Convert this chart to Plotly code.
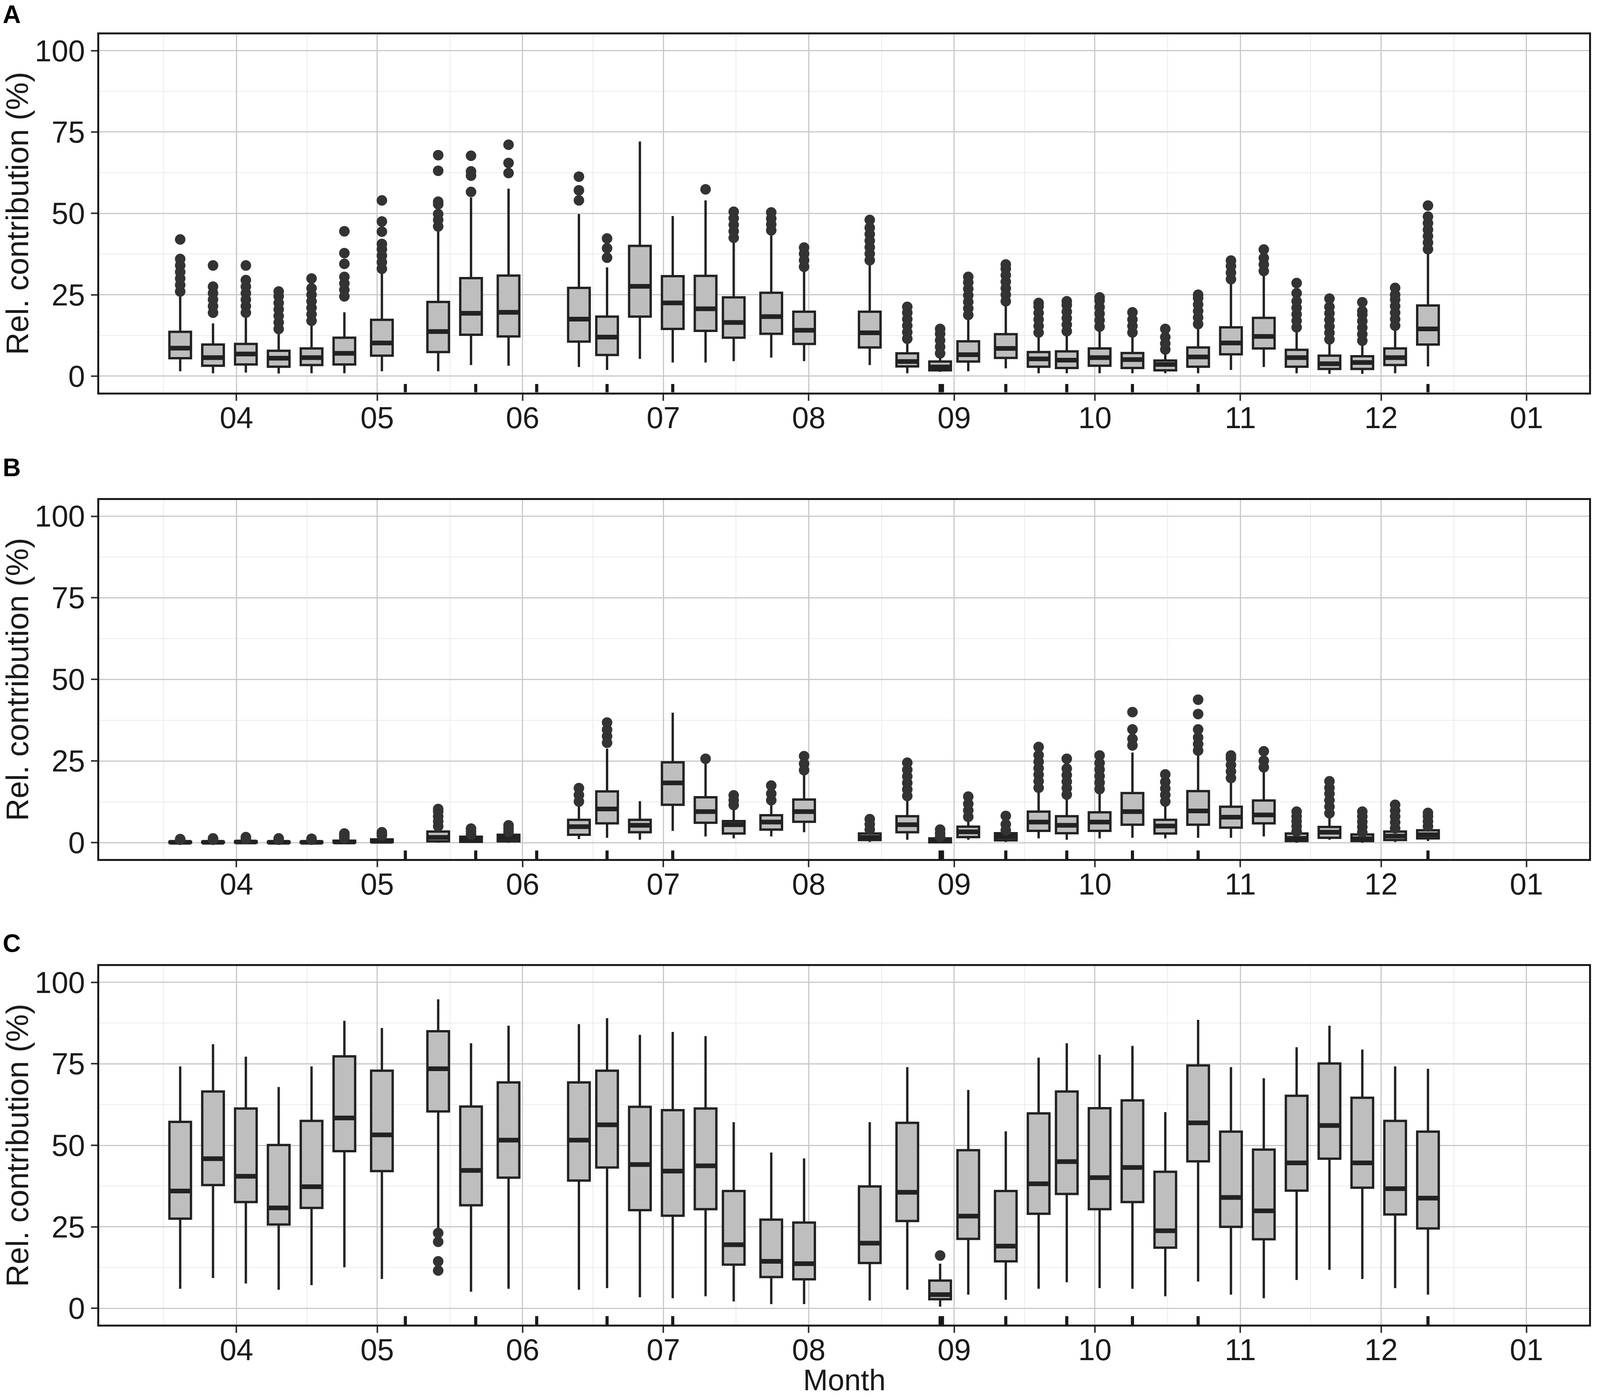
import pandas as pd
import plotly.graph_objects as go

# sampling dates (one box per date, same in all three panels)
dates = ["2019-03-20", "2019-03-27", "2019-04-03", "2019-04-10", "2019-04-17", "2019-04-24",
         "2019-05-02", "2019-05-14", "2019-05-21", "2019-05-29", "2019-06-13", "2019-06-19",
         "2019-06-26", "2019-07-03", "2019-07-10", "2019-07-16", "2019-07-24", "2019-07-31",
         "2019-08-14", "2019-08-22", "2019-08-29", "2019-09-04", "2019-09-12", "2019-09-19",
         "2019-09-25", "2019-10-02", "2019-10-09", "2019-10-16", "2019-10-23", "2019-10-30",
         "2019-11-06", "2019-11-13", "2019-11-20", "2019-11-27", "2019-12-04", "2019-12-11"]

# rug marks along the bottom of each panel
rug_dates = ["2019-05-07", "2019-05-22", "2019-06-04", "2019-06-19", "2019-07-03",
             "2019-08-29", "2019-08-29 12:00", "2019-09-12", "2019-09-25", "2019-10-09",
             "2019-10-23", "2019-12-11"]

# ---- panel A ----
a_lo = [1.5, 0.9, 1.1, 0.8, 0.9, 0.9, 1.5, 1.5, 3.4, 3.2, 2.8, 1.9, 5.3, 4.2, 4.2, 4.6, 5.7, 4.6,
        3.4, 0.9, 1.3, 1.5, 2.4, 0.9, 0.9, 0.9, 0.9, 0.9, 0.9, 1.9, 2.8, 0.9, 0.7, 0.7, 0.9, 3.0]
a_q1 = [5.5, 3.2, 3.6, 2.9, 3.4, 3.6, 6.3, 7.4, 12.7, 12.2, 10.6, 6.5, 18.3, 14.5, 13.9, 11.8, 13.0, 9.9,
        8.8, 3.0, 1.8, 4.5, 5.6, 2.9, 2.5, 3.2, 2.5, 1.8, 2.9, 6.7, 8.5, 2.9, 2.2, 2.2, 3.4, 9.7]
a_med = [8.6, 5.7, 6.8, 5.5, 5.7, 7.0, 10.2, 13.7, 19.3, 19.6, 17.5, 12.0, 27.6, 22.5, 20.7, 16.5, 18.3, 14.1,
         13.3, 4.5, 2.8, 6.6, 8.5, 5.3, 4.9, 5.7, 5.1, 3.6, 5.9, 10.2, 12.2, 5.7, 3.8, 4.2, 5.7, 14.5]
a_q3 = [13.6, 9.7, 9.9, 7.8, 8.5, 11.8, 17.3, 22.8, 30.1, 30.9, 27.1, 18.3, 40.0, 30.7, 30.8, 24.2, 25.6, 19.8,
        19.8, 7.0, 4.5, 10.7, 12.9, 7.4, 7.6, 8.5, 7.1, 4.8, 8.8, 15.0, 17.9, 8.1, 6.3, 6.1, 8.5, 21.7]
a_hi = [25.5, 16.2, 17.9, 14.1, 16.2, 19.6, 32.2, 45.6, 54.9, 57.6, 49.8, 33.4, 72.1, 49.2, 54.0, 42.3, 43.4, 33.0,
        35.1, 11.3, 6.1, 18.3, 22.9, 13.0, 13.7, 15.0, 13.0, 7.8, 15.8, 29.7, 32.2, 14.5, 11.2, 10.8, 15.4, 38.9]
a_out = [
    [26, 28, 30, 32, 34, 36, 42], [19.5, 21.5, 23.5, 25.5, 27.5, 34], [19.5, 21.5, 23.5, 25.5, 27.5, 29.5, 34],
    [14.5, 16.5, 18.5, 20.5, 22.5, 24.5, 26], [17, 19, 21, 23, 25, 27, 30], [24.5, 26.5, 28.5, 30.5, 34.5, 37.8, 44.5],
    [33, 35, 37, 39, 40.6, 44.4, 47.5, 54], [46, 48, 49.8, 52.8, 53.6, 63.1, 67.9], [56.6, 61.6, 62.9, 67.7],
    [62.4, 65.5, 71.1], [54, 57.1, 61.3], [36.4, 39.3, 42.3],
    [], [], [57.4],
    [42.5, 44.5, 46.5, 48.5, 50.5], [44.8, 46.6, 48.4, 50.3], [33.6, 35.6, 37.6, 39.5],
    [35.6, 37.6, 39.6, 41.6, 43.6, 45.6, 48], [11.5, 13.5, 15.5, 17.5, 19.5, 21.3], [7, 9, 11, 13, 14.5],
    [18.8, 20.8, 22.8, 24.8, 26.8, 28.8, 30.5], [23, 25, 27, 29, 31, 33, 34.3], [13.4, 15.4, 17.4, 19.4, 21.4, 22.5],
    [13.8, 15.8, 17.8, 19.8, 21.8, 23], [15.2, 17.2, 19.2, 21.2, 23.2, 24.2], [13.4, 15.4, 17.4, 19.6],
    [8.2, 10, 12, 14.5], [16, 18, 20, 22, 24, 25], [29.8, 31.8, 33.8, 35.5],
    [32.3, 34.3, 36.3, 38.9], [15, 17, 19, 21, 23, 25.5, 28.6], [11.3, 13.3, 15.3, 17.3, 19.3, 21.3, 23.8],
    [10.9, 12.9, 14.9, 16.9, 18.9, 20, 22.7], [15.5, 17.5, 19.5, 21.5, 23.5, 25, 27.1], [39, 41, 43, 45, 47, 49, 52.4],
]

# ---- panel B ----
b_lo = [0, 0, 0, 0, 0, 0, 0, 0, 0, 0, 1.1, 1.5, 0.9, 3.6, 1.9, 1.3, 1.9, 3.2,
        0.2, 0.9, 0, 0.9, 0.2, 1.3, 0.9, 1.3, 1.5, 1.3, 1.5, 1.5, 1.9, 0, 0.9, 0, 0.2, 0.5]
b_q1 = [0, 0, 0.05, 0, 0, 0.05, 0.2, 0.4, 0.25, 0.4, 2.4, 5.9, 3.2, 11.6, 6.1, 2.8, 4.0, 6.4,
        0.8, 3.2, 0.1, 1.7, 0.7, 3.6, 2.9, 3.6, 5.5, 2.8, 5.5, 4.6, 5.9, 0.5, 1.5, 0.5, 0.8, 1.3]
b_med = [0.1, 0.1, 0.2, 0.1, 0.1, 0.2, 0.4, 1.6, 0.9, 1.5, 4.9, 10.3, 5.3, 18.3, 9.5, 5.5, 6.3, 9.5,
         1.6, 5.5, 0.5, 3.3, 1.8, 6.3, 5.3, 6.3, 9.5, 5.1, 9.7, 7.8, 8.5, 1.3, 3.2, 1.2, 2.0, 2.4]
b_q3 = [0.3, 0.3, 0.4, 0.3, 0.3, 0.6, 1.0, 3.4, 1.8, 2.4, 7.0, 15.7, 7.0, 24.6, 13.9, 6.6, 8.4, 13.2,
        2.8, 8.1, 1.3, 4.9, 2.9, 9.5, 8.1, 9.3, 15.2, 7.0, 15.8, 11.0, 12.9, 2.8, 4.8, 2.5, 3.4, 3.8]
b_hi = [0.6, 0.6, 0.8, 0.6, 0.6, 1.1, 1.9, 4.2, 2.2, 2.8, 12.0, 28.8, 12.7, 39.8, 24.6, 11.2, 12.4, 21.3,
        3.2, 14.1, 1.5, 7.4, 3.4, 16.2, 13.7, 16.2, 27.6, 12.4, 28.0, 19.6, 22.5, 3.0, 8.7, 2.8, 4.0, 4.5]
b_out = [
    [0.9, 1.1], [0.9, 1.3], [1.1, 1.4, 1.7], [0.9, 1.3], [0.9, 1.2], [1.4, 1.8, 2.3, 2.8],
    [2.2, 2.7, 3.2], [5, 6.5, 8, 9.5, 10.3], [2.5, 3.4, 4.3], [3.3, 4.3, 5.3],
    [12.6, 14.6, 16.7], [30.6, 32.6, 34.6, 36.8], [], [], [25.7],
    [11.5, 13, 14.5], [13.0, 15.0, 17.5], [22.2, 24.2, 26.5], [4.0, 5.6, 7.2],
    [14.3, 16.3, 18.3, 20.3, 22.3, 24.5], [1.8, 2.8, 4.0], [7.9, 9.9, 11.9, 14.1], [3.8, 5.6, 8.2],
    [16.8, 18.8, 20.8, 22.8, 24.8, 26.8, 29.3], [14.7, 16.7, 18.7, 20.7, 22.7, 25.7],
    [16.4, 18.4, 20.4, 22.4, 24.4, 26.7], [29.8, 31.8, 34.7, 40.0], [12.6, 14.6, 16.6, 18.6, 20.9],
    [28.2, 30.2, 32.2, 34.7, 39.4, 43.8], [19.8, 21.8, 23.8, 25.8, 26.7], [23.1, 25.1, 28.0],
    [3.4, 5.0, 6.5, 8.0, 9.5], [9.0, 11.0, 13.0, 15.0, 16.8, 18.8], [3.2, 4.8, 6.4, 8.0, 9.5],
    [4.4, 6.2, 8.0, 9.8, 11.6], [5.0, 6.5, 8.0, 9.1],
]

# ---- panel C ----
c_lo = [6.0, 9.3, 7.6, 5.7, 7.1, 12.6, 9.0, 24.5, 5.1, 6.0, 5.7, 6.2, 3.4, 3.1, 3.7, 2.1, 1.3, 1.3,
        2.4, 5.7, 0.5, 4.2, 2.6, 6.0, 8.0, 6.2, 6.0, 3.7, 8.2, 4.2, 3.1, 8.7, 11.8, 9.0, 6.2, 4.2]
c_q1 = [27.5, 37.8, 32.6, 25.7, 30.8, 48.2, 42.1, 60.4, 31.6, 40.1, 39.2, 43.2, 30.1, 28.4, 30.4, 13.4, 9.6, 8.9,
        13.9, 26.8, 2.8, 21.3, 14.4, 29.0, 35.1, 30.4, 32.6, 18.6, 45.1, 25.0, 21.2, 36.1, 45.9, 37.0, 28.8, 24.5]
c_med = [36.0, 45.9, 40.5, 30.8, 37.3, 58.4, 53.2, 73.5, 42.3, 51.6, 51.6, 56.3, 44.1, 42.1, 43.7, 19.5, 14.4, 13.7,
         20.0, 35.6, 4.2, 28.3, 19.1, 38.2, 45.0, 40.1, 43.2, 23.8, 56.9, 34.0, 29.9, 44.6, 56.1, 44.6, 36.7, 33.8]
c_q3 = [57.2, 66.5, 61.3, 50.1, 57.5, 77.3, 72.9, 85.0, 61.9, 69.3, 69.3, 72.9, 61.8, 60.8, 61.3, 36.0, 27.2, 26.3,
        37.4, 56.9, 8.5, 48.5, 36.0, 59.8, 66.5, 61.4, 63.8, 41.9, 74.5, 54.2, 48.7, 65.2, 75.1, 64.6, 57.5, 54.2]
c_hi = [74.2, 81.0, 77.2, 67.9, 74.2, 88.2, 86.0, 94.8, 81.3, 86.7, 87.2, 89.0, 83.9, 84.8, 83.5, 57.1, 47.8, 46.0,
        57.1, 74.0, 13.7, 67.0, 54.3, 76.9, 81.3, 77.8, 80.5, 60.2, 88.5, 74.0, 70.6, 80.1, 86.7, 79.4, 74.2, 73.5]
c_out = [[] for _ in dates]
c_out[7] = [23.1, 20.4, 14.4, 11.6]
c_out[20] = [16.2]

y_ticks = [0, 25, 50, 75, 100]
y_minor = [12.5, 37.5, 62.5, 87.5]
x_minor = ["2019-03-16 12:00", "2019-04-16", "2019-05-16 12:00", "2019-06-16", "2019-07-16 12:00",
           "2019-08-16 12:00", "2019-09-16", "2019-10-16 12:00", "2019-11-16", "2019-12-16 12:00"]
x_range = ["2019-03-02 17:45", "2020-01-14 08:10"]

panels = [
    ("A", a_lo, a_q1, a_med, a_q3, a_hi, a_out),
    ("B", b_lo, b_q1, b_med, b_q3, b_hi, b_out),
    ("C", c_lo, c_q1, c_med, c_q3, c_hi, c_out),
]

W, H = 4564, 3584
ML, MR = 283, 31
FONT = "Liberation Sans, Arial, Helvetica, sans-serif"
INK = "#1A1A1A"
BOX_W = pd.Timedelta(days=4.6)
domains = [(0.7225, 1.0), (0.3609, 0.6392), (0.0, 0.2779)]
label_y = [1.0154, 0.6642, 0.2955]

x = pd.to_datetime(dates, format="ISO8601")
rug_x = pd.to_datetime(rug_dates, format="ISO8601")

fig = go.Figure()
for i, (name, lo, q1, med, q3, hi, out) in enumerate(panels):
    xa = "x" if i == 0 else f"x{i + 1}"
    ya = "y" if i == 0 else f"y{i + 1}"

    fig.add_trace(go.Box(
        x=x, q1=q1, median=med, q3=q3, lowerfence=lo, upperfence=hi,
        width=BOX_W.total_seconds() * 1000, whiskerwidth=0, boxpoints=False,
        fillcolor="#BEBEBE", line=dict(color="#222222", width=6),
        xaxis=xa, yaxis=ya, showlegend=False, hoverinfo="skip",
    ))

    # thick median bar, as ggplot draws it
    mx, my = [], []
    for d, m in zip(x, med):
        mx += [d - BOX_W / 2, d + BOX_W / 2, None]
        my += [m, m, None]
    fig.add_trace(go.Scatter(x=mx, y=my, mode="lines", line=dict(color="#222222", width=12),
                             xaxis=xa, yaxis=ya, showlegend=False, hoverinfo="skip"))

    ox, oy = [], []
    for d, vals in zip(x, out):
        ox += [d] * len(vals)
        oy += vals
    fig.add_trace(go.Scatter(x=ox, y=oy, mode="markers",
                             marker=dict(color="#333333", size=27, line=dict(width=0)),
                             xaxis=xa, yaxis=ya, showlegend=False, hoverinfo="skip"))

    rx, ry = [], []
    for d in rug_x:
        rx += [d, d, None]
        ry += [-5, -2.4, None]
    fig.add_trace(go.Scatter(x=rx, y=ry, mode="lines", line=dict(color=INK, width=8),
                             xaxis=xa, yaxis=ya, showlegend=False, hoverinfo="skip"))

    axis_common = dict(
        showline=True, mirror=True, linecolor=INK, linewidth=5,
        showgrid=True, gridcolor="#C9C9C9", gridwidth=3, zeroline=False,
        ticks="outside", ticklen=16, tickwidth=4, tickcolor="#333333",
        tickfont=dict(family=FONT, size=77, color=INK), automargin=False,
    )
    xkey = "xaxis" if i == 0 else f"xaxis{i + 1}"
    ykey = "yaxis" if i == 0 else f"yaxis{i + 1}"
    fig.layout[xkey] = dict(
        axis_common, type="date", range=x_range, dtick="M1", tick0="2019-04-01",
        tickformat="%m", anchor=ya, domain=[0, 1], ticklabelstandoff=-22,
        minor=dict(tickvals=x_minor, showgrid=True, gridcolor="#EBEBEB", gridwidth=2, ticks=""),
    )
    fig.layout[ykey] = dict(
        axis_common, range=[-5, 105], tickmode="array", tickvals=y_ticks,
        anchor=xa, domain=list(domains[i]),
        minor=dict(tickvals=y_minor, showgrid=True, gridcolor="#EBEBEB", gridwidth=2, ticks=""),
        title=dict(text="Rel. contribution (%)", font=dict(family=FONT, size=80, color=INK), standoff=28),
    )
    fig.add_annotation(text=f"<b>{name}</b>", xref="paper", yref="paper", x=-0.0654, y=label_y[i],
                       xanchor="left", yanchor="middle", showarrow=False,
                       font=dict(family=FONT, size=64, color="black"))

fig.add_annotation(text="Month", xref="paper", yref="paper", x=0.5, y=0, yshift=-186,
                   xanchor="center", yanchor="bottom", showarrow=False,
                   font=dict(family=FONT, size=76, color=INK))

fig.update_layout(
    width=W, height=H, paper_bgcolor="white", plot_bgcolor="white",
    margin=dict(l=ML, r=MR, t=88, b=193), showlegend=False,
)

# the browser may give a narrower page than asked for: fit the figure to it
fit = """
var gd = document.getElementById('{plot_id}');
document.body.style.margin = '0';
document.body.style.overflow = 'hidden';
var w = Math.min(window.innerWidth, %d);
gd.style.width = w + 'px';
Plotly.relayout(gd, {'width': w, 'margin.l': Math.round(w * %d / %d), 'margin.r': Math.round(w * %d / %d)});
""" % (W, ML, W, MR, W)
fig.write_html("out.html", post_script=fit, config={"displayModeBar": False})
